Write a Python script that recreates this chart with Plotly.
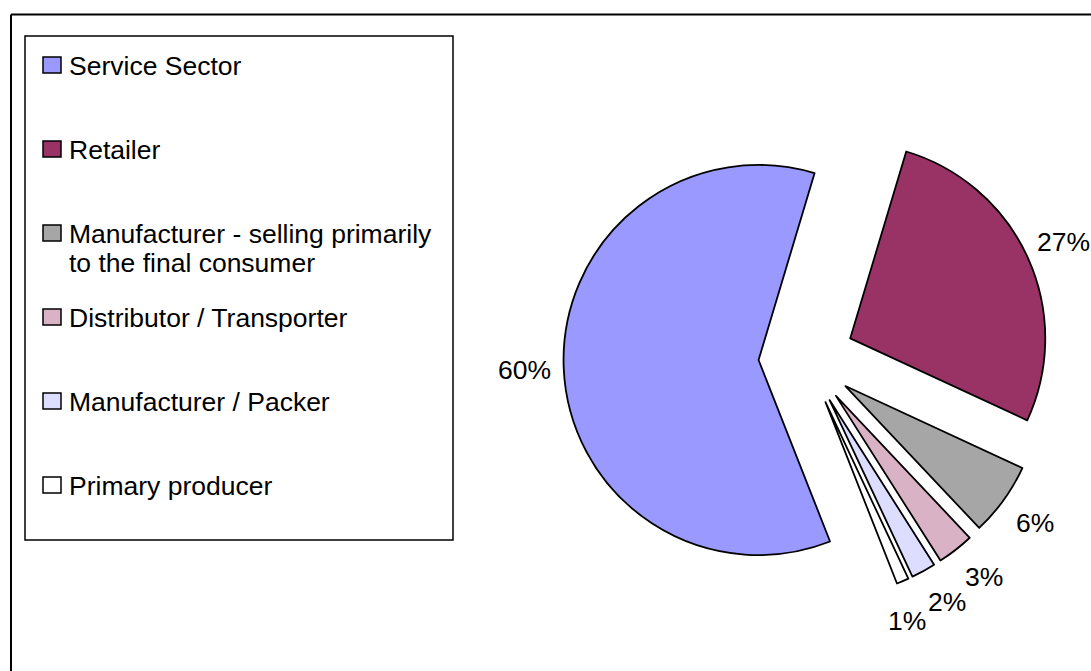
import math
import plotly.graph_objects as go

# Share of respondents by sector (percent)
categories = [
    "Service Sector",
    "Retailer",
    "Manufacturer - selling primarily<br>to the final consumer",
    "Distributor / Transporter",
    "Manufacturer / Packer",
    "Primary producer",
]
shares = [60, 27, 6, 3, 2, 1]
colors = ["#9999FF", "#993366", "#A6A6A6", "#D9B3C5", "#DDDDFF", "#FFFFFF"]

W, H = 1091, 671
FONT = "Liberation Sans, Arial, sans-serif"
FS = 26.5


def px(x):
    return x / W


def py(y):
    return 1 - y / H


# Pie placement (pixel box, converted to domain)
cx, cy, box = 806.5, 358, 486
pull = 0.246
rotation = 158.5
label_r = 282
min_sep = 9.0  # minimum angular gap between neighbouring labels (degrees)

fig = go.Figure(
    go.Pie(
        labels=[c.replace("<br>", " ") for c in categories],
        values=shares,
        sort=False,
        direction="clockwise",
        rotation=rotation,
        pull=[pull] * len(shares),
        marker=dict(colors=colors, line=dict(color="black", width=1.8)),
        textinfo="none",
        domain=dict(
            x=[px(cx - box / 2), px(cx + box / 2)],
            y=[py(cy + box / 2), py(cy - box / 2)],
        ),
        showlegend=False,
        hoverinfo="label+value",
    )
)

shapes = []
annotations = []

# Percentage labels: start on each slice's bisector, then spread
# neighbouring labels apart so small slices do not collide
total = sum(shares)
mids = []
start = rotation
for v in shares:
    span = v / total * 360
    mids.append(start + span / 2)
    start += span

angles = list(mids)
for _ in range(200):
    for k in range(len(angles) - 1):
        gap = angles[k + 1] - angles[k]
        if gap < min_sep:
            shift = (min_sep - gap) / 2
            angles[k] -= shift
            angles[k + 1] += shift

for v, a in zip(shares, angles):
    t = math.radians(a)
    lx = cx + label_r * math.sin(t)
    ly = cy - label_r * math.cos(t)
    annotations.append(dict(
        xref="paper", yref="paper", x=px(lx), y=py(ly),
        xanchor="center", yanchor="middle", showarrow=False,
        text=f"{v}%", font=dict(family=FONT, size=FS, color="black"),
    ))

# Chart frame (left and top edges; the rest runs past the canvas)
shapes.append(dict(type="line", xref="paper", yref="paper",
                   x0=px(11), x1=px(11), y0=0, y1=py(14.5),
                   line=dict(color="black", width=2)))
shapes.append(dict(type="line", xref="paper", yref="paper",
                   x0=px(11), x1=1, y0=py(14.5), y1=py(14.5),
                   line=dict(color="black", width=2)))

# Legend box
shapes.append(dict(type="rect", xref="paper", yref="paper",
                   x0=px(25), x1=px(453), y0=py(540), y1=py(36),
                   line=dict(color="black", width=1.5), fillcolor="white"))

row0, pitch, line_gap = 65, 84, 29
for i, (name, col) in enumerate(zip(categories, colors)):
    yc = row0 + pitch * i
    shapes.append(dict(type="rect", xref="paper", yref="paper",
                       x0=px(43), x1=px(61), y0=py(yc + 8), y1=py(yc - 8),
                       line=dict(color="black", width=1.5), fillcolor=col))
    for j, part in enumerate(name.split("<br>")):
        annotations.append(dict(
            xref="paper", yref="paper", x=px(67), y=py(yc + j * line_gap + 1),
            xanchor="left", yanchor="middle", showarrow=False, text=part,
            font=dict(family=FONT, size=FS, color="black"),
        ))

fig.update_layout(
    width=W, height=H,
    margin=dict(l=0, r=0, t=0, b=0),
    paper_bgcolor="white", plot_bgcolor="white",
    shapes=shapes, annotations=annotations,
)

fig.write_html("out.html")
